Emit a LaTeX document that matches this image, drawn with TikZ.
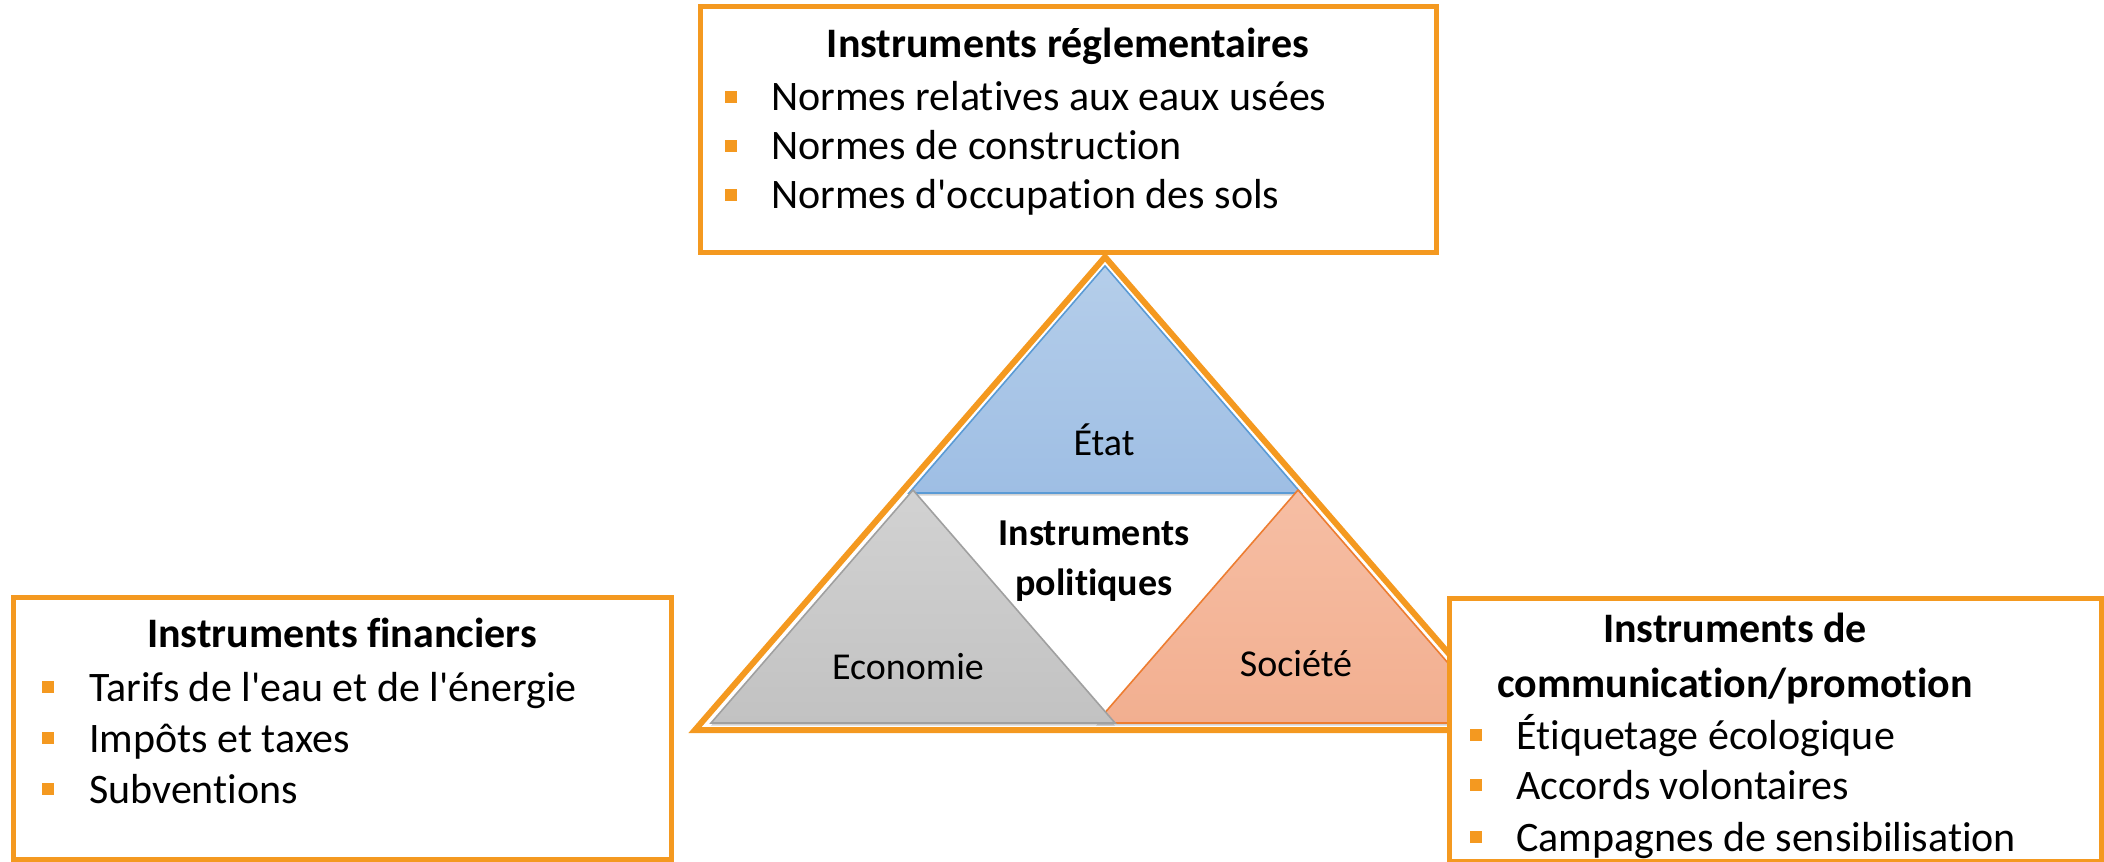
\documentclass[tikz,border=0pt]{standalone}
\usepackage{fontspec}
\setmainfont{Carlito}[Ligatures={NoCommon}]
\usetikzlibrary{shadows}
\definecolor{orng}{RGB}{244,153,32}
\definecolor{blueA}{RGB}{181,206,234}
\definecolor{blueB}{RGB}{158,190,228}
\definecolor{blueE}{RGB}{91,155,213}
\definecolor{greyA}{RGB}{210,210,210}
\definecolor{greyB}{RGB}{194,194,194}
\definecolor{greyE}{RGB}{160,160,160}
\definecolor{salA}{RGB}{246,190,164}
\definecolor{salB}{RGB}{242,175,144}
\definecolor{salE}{RGB}{237,125,49}
\tikzset{
  box/.style={draw=orng, line width=3.75pt, fill=white, inner sep=0pt},
  big/.style={font=\fontsize{31.5}{37.5}\selectfont, inner sep=0pt},
  tri/.style={font=\fontsize{28.5}{34}\selectfont, inner sep=0pt},
  bul/.style={fill=orng, minimum size=9pt, inner sep=0pt},
  sh/.style={drop shadow={opacity=0.35, shadow xshift=0pt, shadow yshift=-2pt}},
}
\begin{document}
\begin{tikzpicture}[x=0.75pt,y=-0.75pt]
\useasboundingbox (0,0) rectangle (2104,862);
% central triangles
\draw[draw=orng, fill=white, line width=4.5pt, line join=miter, sh] (1105,257) coordinate (apex) -- (695,730) coordinate (bl) -- (1515,730) coordinate (br) -- cycle;
\shade[top color=blueA, bottom color=blueB, draw=blueE, line width=1.2pt, sh] (1105,266) -- (909,493) -- (1301,493) -- cycle;
\shade[top color=salA, bottom color=salB, draw=salE, line width=1.2pt, sh] (1298,490) -- (1096,723) -- (1500,723) -- cycle;
\shade[top color=greyA, bottom color=greyB, draw=greyE, line width=1.2pt, sh] (913,490) -- (711,723) -- (1115,723) -- cycle;
\node[tri] (etat) at (1104,440) {État};
\node[tri, font=\fontsize{28.5}{37}\selectfont\bfseries, align=center] (pol) at (1094,561) {Instruments\\politiques};
\node[tri] (eco) at (908,667) {Economie};
\node[tri] (soc) at (1296,664) {Société};
% boxes
\node[box, minimum width=552pt, minimum height=184.5pt] (topbox) at (1068,130) {};
\node[box, minimum width=493.5pt, minimum height=196.5pt] (leftbox) at (342,728) {};
\node[box, minimum width=489pt, minimum height=197.25pt] (rightbox) at (1775,729.5) {};
% top box text
\node[big, font=\fontsize{31.5}{37.5}\selectfont\bfseries, anchor=base] (t0) at (1068,58) {Instruments réglementaires};
\node[bul] (tb1) at (731,97) {};
\node[big, anchor=base west] (t1) at (771,111) {Normes relatives aux eaux usées};
\node[bul] (tb2) at (731,146) {};
\node[big, anchor=base west] (t2) at (771,160) {Normes de construction};
\node[bul] (tb3) at (731,195) {};
\node[big, anchor=base west] (t3) at (771,209) {Normes d\textquotesingle occupation des sols};
% left box text
\node[big, font=\fontsize{31.5}{37.5}\selectfont\bfseries, anchor=base] (l0) at (342,647) {Instruments financiers};
\node[bul] (lb1) at (48,687) {};
\node[big, anchor=base west] (l1) at (89,701) {Tarifs de l\textquotesingle eau et de l\textquotesingle énergie};
\node[bul] (lb2) at (48,738) {};
\node[big, anchor=base west] (l2) at (89,752) {Impôts et taxes};
\node[bul] (lb3) at (48,789) {};
\node[big, anchor=base west] (l3) at (89,803) {Subventions};
% right box text
\node[big, font=\fontsize{31.5}{37.5}\selectfont\bfseries, anchor=base] (r0a) at (1735,642) {Instruments de};
\node[big, font=\fontsize{31.5}{37.5}\selectfont\bfseries, anchor=base] (r0b) at (1735,697) {communication/promotion};
\node[bul] (rb1) at (1476,735) {};
\node[big, anchor=base west] (r1) at (1516,749) {Étiquetage écologique};
\node[bul] (rb2) at (1476,785) {};
\node[big, anchor=base west] (r2) at (1516,799) {Accords volontaires};
\node[bul] (rb3) at (1476,837) {};
\node[big, anchor=base west] (r3) at (1516,851) {Campagnes de sensibilisation};
\end{tikzpicture}
\end{document}
